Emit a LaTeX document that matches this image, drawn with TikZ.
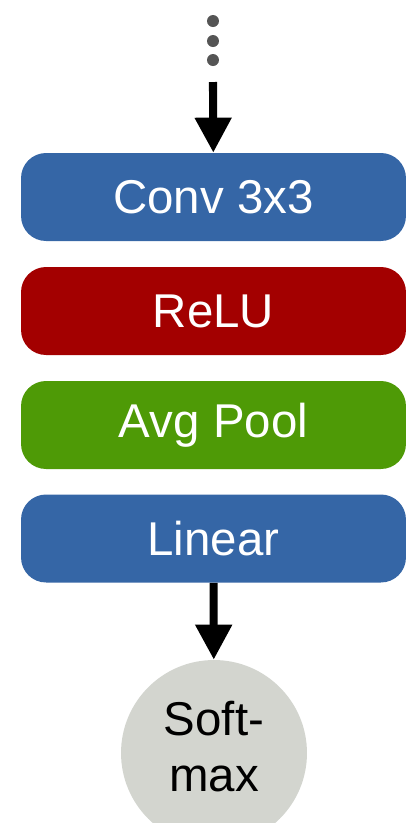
\documentclass[tikz,border=0pt]{standalone}
\usepackage{fontspec}
\setmainfont{Liberation Sans}
\usetikzlibrary{arrows.meta}
\definecolor{convblue}{RGB}{53,102,166}
\definecolor{relured}{RGB}{163,0,0}
\definecolor{poolgreen}{RGB}{78,154,6}
\definecolor{softgray}{RGB}{211,213,207}
\definecolor{dotgray}{RGB}{85,85,85}
\tikzset{
  layer/.style={rectangle,rounded corners=0.5cm,minimum width=7.7cm,minimum height=1.76cm,
    text=white,font=\fontsize{27}{32}\selectfont},
  outnode/.style={circle,fill=softgray,minimum size=3.72cm,inner sep=0pt},
  outtext/.style={inner sep=0pt,align=center,font=\fontsize{27}{32}\selectfont}
  ,flow/.style={line width=4.6pt,-{Triangle[length=0.7cm,width=0.7cm]}}
}
\begin{document}
\begin{tikzpicture}[line cap=butt,line join=round,x=0.02cm,y=-0.02cm]
\clip(0,0) rectangle (416,823);
% dots
\fill[dotgray] (213,21) circle (0.12cm);
\fill[dotgray] (213,41) circle (0.12cm);
\fill[dotgray] (213,60) circle (0.12cm);
\coordinate (in) at (213,82);
% layers
\node[layer,fill=convblue] (conv) at (213.5,197) {Conv 3x3};
\node[layer,fill=relured] (relu) at (213.5,311) {ReLU};
\node[layer,fill=poolgreen] (pool) at (213.5,425) {Avg Pool};
\node[layer,fill=convblue] (lin) at (213.5,538.5) {Linear};
\node[outnode] (soft) at (214,753) {};
\node[outtext] (softlbl) at (214,746.5) {Soft-\\max};
\draw[flow] (in) -- (conv);
\draw[flow] (lin) -- (soft);
\end{tikzpicture}
\end{document}
